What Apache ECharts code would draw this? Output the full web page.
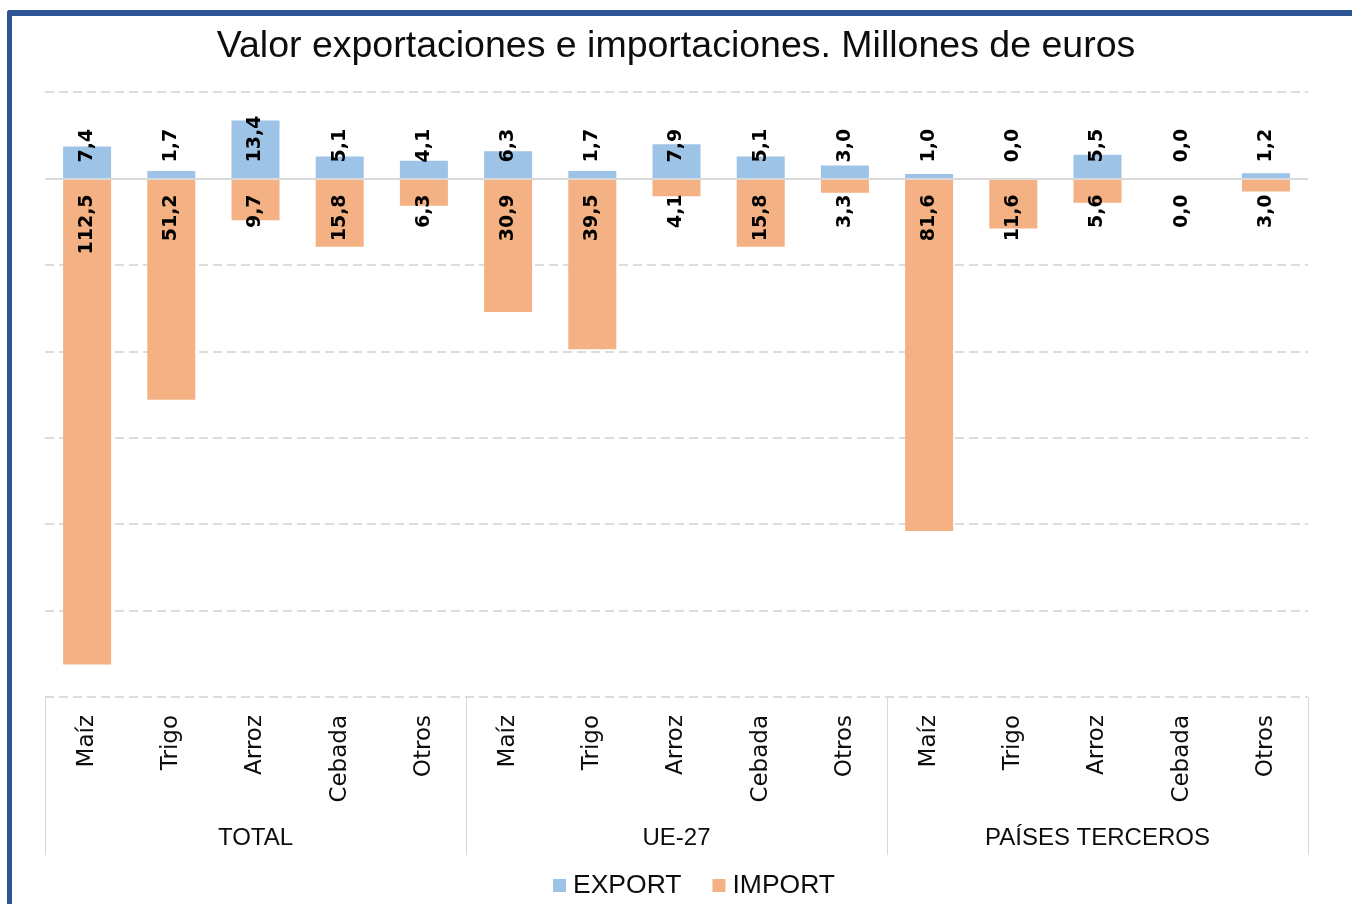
<!DOCTYPE html>
<html>
<head>
<meta charset="utf-8">
<script src="https://cdn.jsdelivr.net/npm/echarts@6/dist/echarts.min.js"></script>
<style>
  html, body { margin: 0; padding: 0; background: #fff; overflow: hidden; }
  #frame {
    position: absolute; left: 7px; top: 10px; width: 2000px; height: 2000px;
    border-top: 6px solid #2F5597; border-left: 5px solid #2F5597;
    border-top-left-radius: 3px;
  }
  #chart { position: absolute; left: 0; top: 0; width: 1352px; height: 904px; }
</style>
</head>
<body>
<div id="frame"></div>
<div id="chart"></div>
<script>
const products = ['Maíz', 'Trigo', 'Arroz', 'Cebada', 'Otros'];
const groups = ['TOTAL', 'UE-27', 'PAÍSES TERCEROS'];
const exportValues = [7.4, 1.7, 13.4, 5.1, 4.1, 6.3, 1.7, 7.9, 5.1, 3.0, 1.0, 0.0, 5.5, 0.0, 1.2];
const importValues = [112.5, 51.2, 9.7, 15.8, 6.3, 30.9, 39.5, 4.1, 15.8, 3.3, 81.6, 11.6, 5.6, 0.0, 3.0];

const categories = [];
groups.forEach(() => products.forEach((p) => categories.push(p)));

const fmt = (p) => Math.abs(p.value).toFixed(1).replace('.', ',');
const labelBase = {
  show: true,
  rotate: 90,
  verticalAlign: 'middle',
  distance: 16,
  color: '#000',
  fontFamily: 'DejaVu Sans',
  fontWeight: 'bold',
  fontSize: 19,
  formatter: fmt,
};

const option = {
  animation: false,
  title: {
    text: 'Valor exportaciones e importaciones. Millones de euros',
    left: 'center',
    top: 23,
    textStyle: { fontFamily: 'Liberation Sans', fontWeight: 'normal', fontSize: 37.5, color: '#0d0d0d' },
  },
  legend: {
    top: 867,
    left: 548,
    itemWidth: 13,
    itemHeight: 13,
    itemGap: 31,
    icon: 'rect',
    textStyle: { fontFamily: 'Liberation Sans', fontSize: 26.5, color: '#0d0d0d', padding: [0, 0, 0, 2] },
    data: ['EXPORT', 'IMPORT'],
  },
  grid: { left: 45, right: 44, top: 92, bottom: 207, containLabel: false, outerBoundsMode: 'none' },
  xAxis: [
    {
      type: 'category',
      position: 'bottom',
      data: categories,
      axisLine: { show: false, onZero: false },
      axisTick: { show: false },
      axisLabel: {
        interval: 0,
        rotate: 90,
        margin: 18,
        fontFamily: 'DejaVu Sans',
        fontSize: 23,
        color: '#0d0d0d',
      },
    },
    {
      type: 'category',
      position: 'bottom',
      data: groups,
      axisLine: { show: false, onZero: false },
      axisTick: { show: true, interval: 0, length: 158, lineStyle: { color: '#d9d9d9', width: 1 } },
      axisLabel: {
        interval: 0,
        margin: 129,
        fontFamily: 'Liberation Sans',
        fontSize: 24,
        color: '#0d0d0d',
      },
    },
  ],
  yAxis: {
    type: 'value',
    min: -120,
    max: 20,
    interval: 20,
    axisLine: { show: false },
    axisTick: { show: false },
    axisLabel: { show: false },
    splitLine: { lineStyle: { color: '#dcdcdc', width: 2, type: [9, 5] } },
  },
  series: [
    {
      name: 'EXPORT',
      type: 'bar',
      stack: 'v',
      barWidth: 48,
      itemStyle: { color: '#9DC3E6' },
      label: { ...labelBase, position: 'insideBottom', align: 'left' },
      data: exportValues,
      markLine: {
        silent: true,
        symbol: 'none',
        label: { show: false },
        lineStyle: { color: '#d9d9d9', width: 2, type: 'solid' },
        data: [{ yAxis: 0 }],
      },
    },
    {
      name: 'IMPORT',
      type: 'bar',
      stack: 'v',
      barWidth: 48,
      itemStyle: { color: '#F4B183' },
      label: { ...labelBase, position: 'insideTop', align: 'right' },
      data: importValues.map((v) => -v),
    },
  ],
};

const myChart = echarts.init(document.getElementById('chart'));
myChart.setOption(option);
</script>
</body>
</html>
